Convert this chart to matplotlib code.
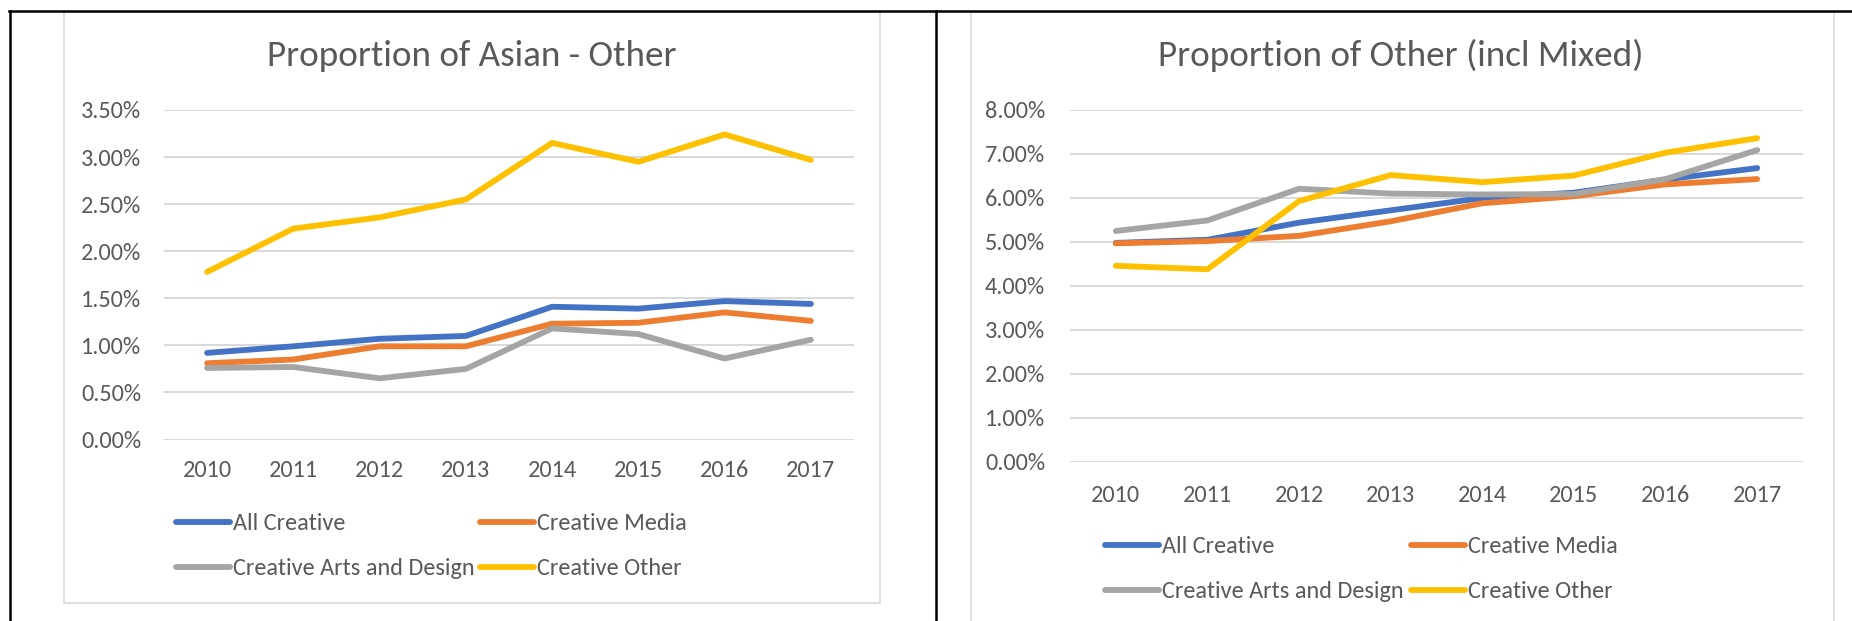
import numpy as np
import matplotlib.pyplot as plt
from matplotlib.ticker import FuncFormatter
from matplotlib.lines import Line2D
from matplotlib.patches import Rectangle

plt.rcParams['font.family'] = ['Carlito', 'Lato', 'DejaVu Sans']

# data (values in percent)
years = ['2010', '2011', '2012', '2013', '2014', '2015', '2016', '2017']
series_names = ['All Creative', 'Creative Media', 'Creative Arts and Design', 'Creative Other']
colors = ['#4472C4', '#ED7D31', '#A5A5A5', '#FFC000']

asian_all = [0.92, 0.99, 1.07, 1.10, 1.41, 1.39, 1.47, 1.44]
asian_media = [0.81, 0.85, 0.99, 0.99, 1.23, 1.24, 1.35, 1.26]
asian_arts = [0.76, 0.77, 0.65, 0.75, 1.18, 1.12, 0.86, 1.06]
asian_other = [1.78, 2.24, 2.36, 2.55, 3.15, 2.95, 3.24, 2.97]

mixed_all = [4.98, 5.05, 5.44, 5.72, 6.00, 6.12, 6.42, 6.68]
mixed_media = [4.97, 5.02, 5.14, 5.47, 5.88, 6.04, 6.31, 6.43]
mixed_arts = [5.25, 5.49, 6.21, 6.10, 6.08, 6.09, 6.43, 7.09]
mixed_other = [4.46, 4.38, 5.93, 6.52, 6.36, 6.51, 7.03, 7.36]

W, H = 1852, 621
fig = plt.figure(figsize=(W / 100, H / 100), dpi=100)
TXT = '#595959'
GRID = '#D9D9D9'
FS = 17.5


def fx(x):
    return x / W


def fy(y):
    return 1 - y / H


def draw_chart(x0, x1, ytop, ybot, title, title_xy, values, ymax, step, lab_pad, leg_x, leg_y):
    ax = fig.add_axes([fx(x0), fy(ybot), fx(x1 - x0), (ybot - ytop) / H])
    xs = np.arange(len(years))
    lines = []
    for vals, name, c in zip(values, series_names, colors):
        ln, = ax.plot(xs, vals, color=c, lw=4.2, solid_capstyle='round',
                      solid_joinstyle='miter', label=name, zorder=3)
        lines.append(ln)
    ax.set_xlim(-0.5, len(years) - 0.5)
    ax.set_ylim(0, ymax)
    ax.set_yticks(np.arange(0, ymax + step / 2, step))
    ax.yaxis.set_major_formatter(FuncFormatter(lambda v, p: f'{v:.2f}%'))
    ax.set_xticks(xs)
    ax.set_xticklabels(years)
    ax.grid(axis='y', color=GRID, lw=1.4)
    ax.set_axisbelow(True)
    for s in ax.spines.values():
        s.set_visible(False)
    ax.tick_params(length=0, labelsize=FS, labelcolor=TXT)
    ax.tick_params(axis='y', pad=lab_pad[0])
    ax.tick_params(axis='x', pad=lab_pad[1])
    ax.patch.set_alpha(0)

    fig.text(fx(title_xy[0]), fy(title_xy[1]), title, fontsize=26.7, color=TXT,
             ha='center', va='center')

    # legend: two columns placed separately
    kw = dict(loc='upper left', bbox_transform=fig.transFigure, frameon=False,
              fontsize=FS, labelcolor=TXT, borderpad=0, borderaxespad=0,
              handlelength=39 / FS, handletextpad=2.2 / FS, labelspacing=1.0)
    leg1 = ax.legend([lines[0], lines[2]], [series_names[0], series_names[2]],
                     bbox_to_anchor=(fx(leg_x[0]), fy(leg_y)), **kw)
    ax.add_artist(leg1)
    ax.legend([lines[1], lines[3]], [series_names[1], series_names[3]],
              bbox_to_anchor=(fx(leg_x[1]), fy(leg_y)), **kw)
    return ax


# chart frames and table borders
fig.add_artist(Rectangle((fx(64), fy(603)), fx(880 - 64), (603 - 12) / H,
                         transform=fig.transFigure, fill=False, ec=GRID, lw=1.2))
fig.add_artist(Rectangle((fx(971), fy(640)), fx(1834 - 971), (640 - 12) / H,
                         transform=fig.transFigure, fill=False, ec=GRID, lw=1.2))
fig.add_artist(Line2D([fx(9), 1], [fy(11), fy(11)], transform=fig.transFigure, color='black', lw=1.8))
fig.add_artist(Line2D([fx(10), fx(10)], [fy(11), 0], transform=fig.transFigure, color='black', lw=1.8))
fig.add_artist(Line2D([fx(936), fx(936)], [fy(11), 0], transform=fig.transFigure, color='black', lw=1.8))

draw_chart(164, 854, 110, 439.5, 'Proportion of Asian - Other', (472, 55.5),
           [asian_all, asian_media, asian_arts, asian_other], 3.5, 0.5,
           (16.5, 14.5), (176, 480), 513)
draw_chart(1070, 1803, 110, 462, 'Proportion of Other (incl Mixed)', (1401, 55.5),
           [mixed_all, mixed_media, mixed_arts, mixed_other], 8.0, 1.0,
           (18, 16.5), (1105, 1411), 536)

fig.savefig('out.png', dpi=100, facecolor='white')
